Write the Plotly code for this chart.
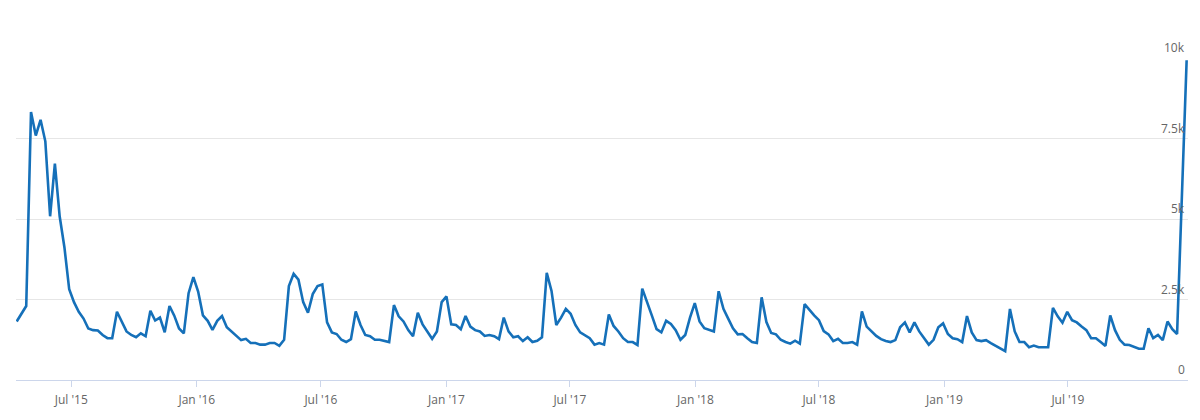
import pandas as pd
import plotly.graph_objects as go

# Weekly series
start_date = "2015-04-12"
values = [
    1820, 2080, 2300, 8330, 7600, 8090, 7420, 5090, 6730, 5090,
    4120, 2820, 2420, 2120, 1910, 1600, 1550, 1540, 1400, 1300,
    1300, 2120, 1800, 1510, 1400, 1330, 1450, 1360, 2150, 1850,
    1940, 1480, 2300, 2000, 1600, 1450, 2700, 3200, 2750, 2010,
    1840, 1560, 1840, 1990, 1640, 1510, 1360, 1240, 1280, 1150,
    1150, 1100, 1100, 1150, 1150, 1060, 1250, 2920, 3300, 3120,
    2420, 2090, 2670, 2920, 2970, 1790, 1480, 1430, 1250, 1180,
    1270, 2130, 1710, 1400, 1360, 1250, 1250, 1210, 1180, 2330,
    1980, 1820, 1550, 1360, 2090, 1730, 1510, 1280, 1510, 2420,
    2600, 1730, 1710, 1580, 1990, 1660, 1550, 1510, 1370, 1400,
    1360, 1270, 1940, 1510, 1330, 1360, 1210, 1330, 1180, 1220,
    1330, 3330, 2770, 1710, 1940, 2210, 2060, 1710, 1480, 1400,
    1300, 1100, 1150, 1100, 2040, 1680, 1510, 1300, 1180, 1180,
    1090, 2840, 2450, 2010, 1580, 1480, 1840, 1740, 1550, 1250,
    1400, 1940, 2390, 1820, 1610, 1550, 1510, 2760, 2210, 1910,
    1610, 1420, 1430, 1300, 1180, 1150, 2570, 1800, 1460, 1420,
    1250, 1180, 1130, 1220, 1130, 2360, 2180, 2010, 1860, 1520,
    1420, 1210, 1280, 1150, 1150, 1180, 1100, 2130, 1660, 1510,
    1370, 1270, 1210, 1180, 1240, 1640, 1790, 1480, 1790, 1510,
    1300, 1100, 1250, 1640, 1760, 1430, 1300, 1270, 1180, 1990,
    1480, 1240, 1210, 1240, 1150, 1060, 970, 900, 2210, 1510,
    1180, 1180, 1020, 1070, 1020, 1020, 1020, 2240, 1980, 1780,
    2120, 1860, 1790, 1660, 1550, 1300, 1300, 1180, 1060, 2010,
    1550, 1250, 1100, 1090, 1020, 970, 970, 1610, 1300, 1400,
    1240, 1820, 1580, 1430, 5690, 9940,
]
dates = pd.date_range(start_date, periods=len(values), freq="7D")

x_tick_vals = ["2015-07-01", "2016-01-01", "2016-07-01", "2017-01-01", "2017-07-01",
               "2018-01-01", "2018-07-01", "2019-01-01", "2019-07-01"]
x_tick_text = ["Jul '15", "Jan '16", "Jul '16", "Jan '17", "Jul '17",
               "Jan '18", "Jul '18", "Jan '19", "Jul '19"]
y_tick_vals = [0, 2500, 5000, 7500, 10000]
y_tick_text = ["0", "2.5k", "5k", "7.5k", "10k"]

LABEL_COLOR = "#666666"
FONT = "Open Sans, sans-serif"

fig = go.Figure()
fig.add_trace(go.Scatter(
    x=dates, y=values, mode="lines",
    line=dict(color="#1570b9", width=2.6),
    hoverinfo="skip",
))

# y-axis labels: right-aligned, sitting just above each gridline
for v, t in zip(y_tick_vals, y_tick_text):
    fig.add_annotation(
        xref="paper", yref="y", x=1, y=v, text=t,
        xanchor="right", yanchor="bottom", showarrow=False,
        font=dict(family=FONT, size=12, color=LABEL_COLOR),
        xshift=-1, yshift=0,
    )

x_start = dates[0] - pd.Timedelta(days=1)
x_end = dates[-1] + pd.Timedelta(days=2)

fig.update_layout(
    width=1200, height=420,
    margin=dict(l=16, r=12, t=58, b=32),
    paper_bgcolor="white", plot_bgcolor="white",
    showlegend=False,
    font=dict(family=FONT, size=12, color=LABEL_COLOR),
    xaxis=dict(
        type="date",
        range=[x_start, x_end],
        tickvals=x_tick_vals, ticktext=x_tick_text,
        ticks="outside", ticklen=6, tickcolor="#ccd6eb", tickwidth=1,
        ticklabelstandoff=3,
        showgrid=False, zeroline=False,
        showline=True, linecolor="#ccd6eb", linewidth=1,
        tickfont=dict(family=FONT, size=12, color=LABEL_COLOR),
    ),
    yaxis=dict(
        side="right",
        range=[0, 10010],
        tickvals=y_tick_vals,
        showticklabels=False,
        showgrid=True, gridcolor="#e6e6e6", gridwidth=1,
        zeroline=False, showline=False, ticks="",
    ),
)

# pin the 1200x420 figure to the window's top-left corner (no page margin / overflow)
post = (
    "document.documentElement.style.margin='0';"
    "document.documentElement.style.overflow='hidden';"
    "document.body.style.margin='0';"
    "document.body.style.overflow='hidden';"
    "var d=document.getElementById('{plot_id}');"
    "d.style.position='fixed';d.style.left='0px';d.style.top='0px';"
)
fig.write_html("out.html", config={"displayModeBar": False}, post_script=post)
